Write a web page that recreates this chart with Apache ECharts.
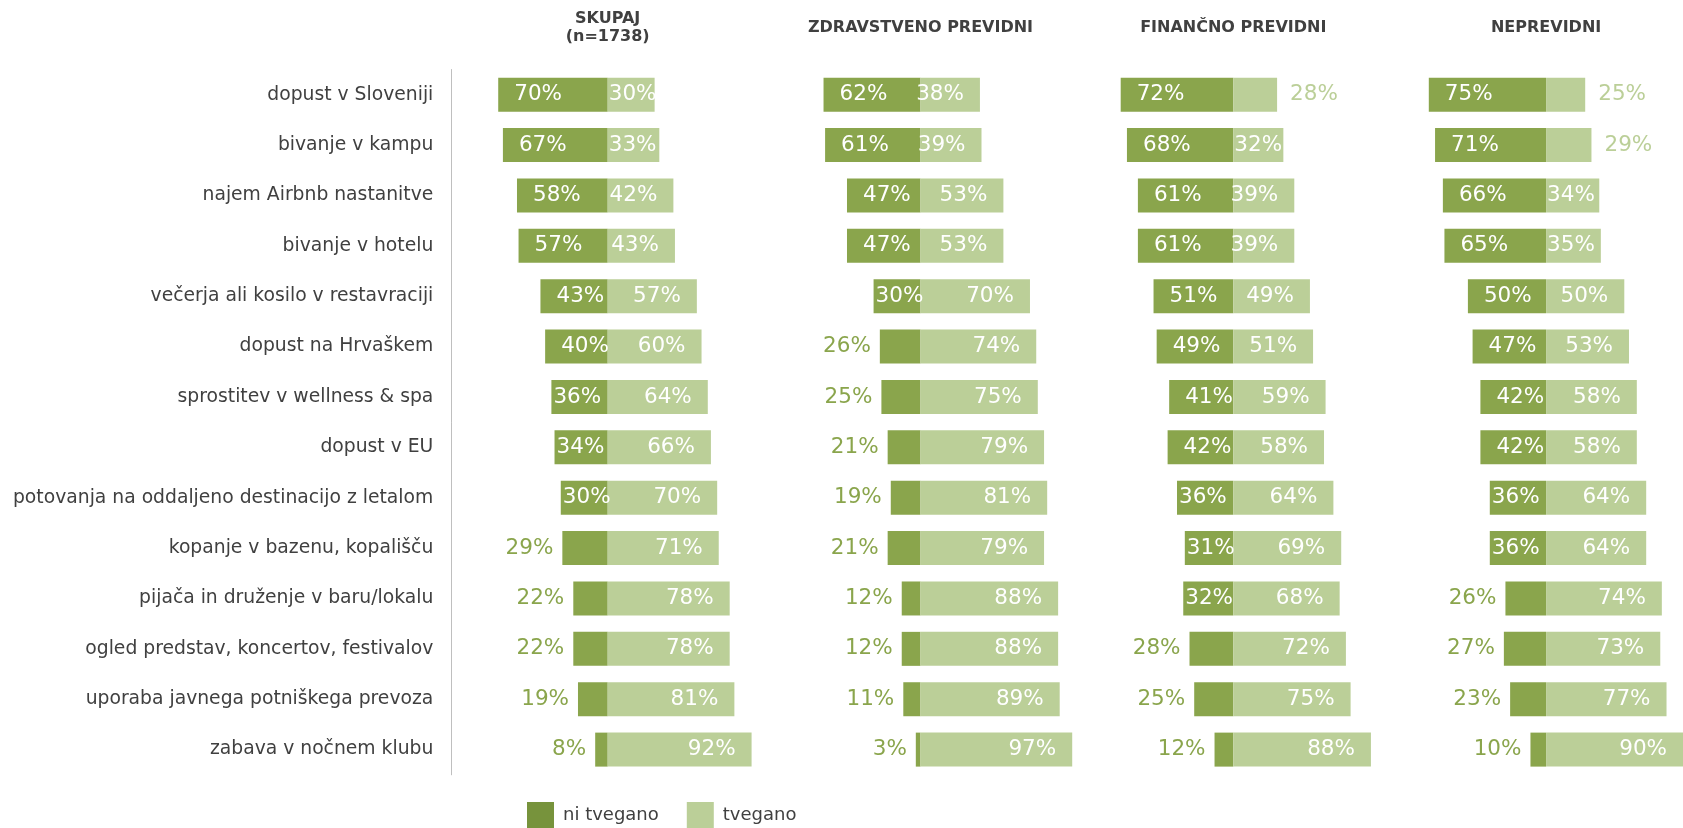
<!DOCTYPE html>
<html><head><meta charset="utf-8">
<script src="https://cdn.jsdelivr.net/npm/echarts@6/dist/echarts.min.js"></script>
<style>html,body{margin:0;padding:0;background:#fff}#c{width:1683px;height:828px}</style>
</head><body><div id="c"></div>
<script>
const categories = [
  'dopust v Sloveniji','bivanje v kampu','najem Airbnb nastanitve','bivanje v hotelu',
  'večerja ali kosilo v restavraciji','dopust na Hrvaškem','sprostitev v wellness & spa',
  'dopust v EU','potovanja na oddaljeno destinacijo z letalom','kopanje v bazenu, kopališču',
  'pijača in druženje v baru/lokalu','ogled predstav, koncertov, festivalov',
  'uporaba javnega potniškega prevoza','zabava v nočnem klubu'
];
const panelTitles = ['SKUPAJ\n(n=1738)', 'ZDRAVSTVENO PREVIDNI', 'FINANČNO PREVIDNI', 'NEPREVIDNI'];
const seriesNames = ['ni tvegano', 'tvegano'];

const skupajNi = [70,67,58,57,43,40,36,34,30,29,22,22,19,8];
const skupajTv = [30,33,42,43,57,60,64,66,70,71,78,78,81,92];
const zdravNi  = [62,61,47,47,30,26,25,21,19,21,12,12,11,3];
const zdravTv  = [38,39,53,53,70,74,75,79,81,79,88,88,89,97];
const financNi = [72,68,61,61,51,49,41,42,36,31,32,28,25,12];
const financTv = [28,32,39,39,49,51,59,58,64,69,68,72,75,88];
const neprevNi = [75,71,66,65,50,47,42,42,36,36,26,27,23,10];
const neprevTv = [25,29,34,35,50,53,58,58,64,64,74,73,77,90];

const panels = [[skupajNi, skupajTv],[zdravNi, zdravTv],[financNi, financTv],[neprevNi, neprevTv]];

const FONT = 'DejaVu Sans';
const DARK = '#8aa54c', LIGHT = '#bbcf98', TXT = '#404040';
const GRID_TOP = 69.5, GRID_H = 705.3, PANEL_W = 312.8, FIRST_CENTER = 607.7, CANVAS_W = 1683;
const PX_PER_PCT = PANEL_W / 200;

function darkItem(v) {
  if (v >= 30) return {value: -v, label: {position: 'insideLeft', distance: v >= 38 ? 16 : 2, color: '#fff'}};
  return {value: -v, label: {position: 'left', distance: 9, color: DARK}};
}
function lightItem(v) {
  if (v >= 38) return {value: v, label: {position: 'insideRight', distance: 16, color: '#fff'}};
  if (v >= 30) return {value: v, label: {position: 'insideLeft', distance: 1, color: '#fff'}};
  return {value: v, label: {position: 'right', distance: 13, color: LIGHT}};
}

const grids = [], xAxes = [], yAxes = [], series = [], titles = [];
panels.forEach((p, i) => {
  const center = FIRST_CENTER + i * PANEL_W;
  const left = center - 100 * PX_PER_PCT;
  // keep the grid inside the canvas (the last panel is cut at the right edge)
  const xMax = Math.min(100, (CANVAS_W - center) / PX_PER_PCT);
  const width = (100 + xMax) * PX_PER_PCT;
  grids.push({left: left, top: GRID_TOP, width: width, height: GRID_H});
  xAxes.push({type: 'value', gridIndex: i, min: -100, max: xMax, show: false});
  yAxes.push({
    type: 'category', gridIndex: i, inverse: true, data: categories,
    axisLine: {show: i === 0, onZero: false, lineStyle: {color: '#bfbfbf', width: 1}},
    axisTick: {show: false},
    axisLabel: {show: i === 0, margin: 18, fontFamily: FONT, fontSize: 18.75, color: TXT}
  });
  const lbl = {show: true, fontFamily: FONT, fontSize: 21.5, formatter: d => Math.abs(d.value) + '%'};
  series.push({
    type: 'bar', name: seriesNames[0], xAxisIndex: i, yAxisIndex: i, stack: 's' + i,
    barWidth: 34, itemStyle: {color: DARK}, label: lbl,
    data: p[0].map(darkItem)
  });
  series.push({
    type: 'bar', name: seriesNames[1], xAxisIndex: i, yAxisIndex: i, stack: 's' + i,
    barWidth: 34, itemStyle: {color: LIGHT}, label: lbl,
    data: p[1].map(lightItem)
  });
  titles.push({
    text: panelTitles[i], left: center, top: i === 0 ? 9.5 : 19, textAlign: 'center', padding: 0,
    textStyle: {fontFamily: FONT, fontSize: 16, fontWeight: 'bold', color: TXT, lineHeight: 18}
  });
});

const chart = echarts.init(document.getElementById('c'), null, {renderer: 'canvas'});
chart.setOption({
  animation: false,
  title: titles,
  grid: grids, xAxis: xAxes, yAxis: yAxes, series: series,
  legend: {
    left: 527, top: 802, itemWidth: 27, itemHeight: 27, itemGap: 28, icon: 'rect', padding: 0,
    textStyle: {fontFamily: FONT, fontSize: 18, color: TXT, padding: [0, 0, 0, 4]},
    data: [{name: seriesNames[0], itemStyle: {color: '#77933c'}}, {name: seriesNames[1], itemStyle: {color: LIGHT}}]
  }
});
</script></body></html>
